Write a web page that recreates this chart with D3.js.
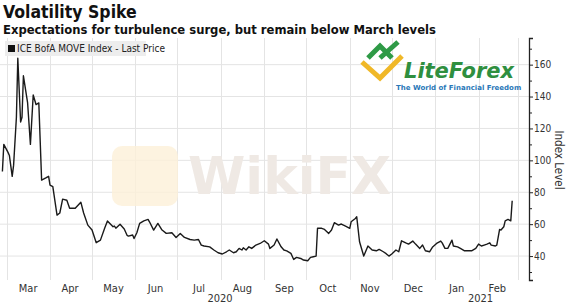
<!DOCTYPE html>
<html>
<head>
<meta charset="utf-8">
<script src="https://cdn.jsdelivr.net/npm/d3@7"></script>
<style>
  body { margin: 0; background: #fff; }
  svg { display: block; }
</style>
</head>
<body>
<div id="chart"></div>
<script>
// ICE BofA MOVE Index
const dates = [
  "2020-02-27","2020-02-28","2020-03-02","2020-03-03","2020-03-05","2020-03-06","2020-03-08","2020-03-09",
  "2020-03-11","2020-03-12","2020-03-13","2020-03-16","2020-03-18","2020-03-20","2020-03-22","2020-03-24",
  "2020-03-26","2020-03-29","2020-03-31","2020-04-01","2020-04-03","2020-04-06","2020-04-08","2020-04-10",
  "2020-04-13","2020-04-15","2020-04-19","2020-04-23","2020-04-25","2020-04-28","2020-05-01","2020-05-04",
  "2020-05-07","2020-05-10","2020-05-12","2020-05-16","2020-05-17","2020-05-18","2020-05-21","2020-05-24",
  "2020-05-26","2020-05-27","2020-05-30","2020-05-31","2020-06-02","2020-06-04","2020-06-07","2020-06-10",
  "2020-06-11","2020-06-14","2020-06-17","2020-06-20","2020-06-23","2020-06-27","2020-06-30","2020-07-03",
  "2020-07-06","2020-07-10","2020-07-13","2020-07-16","2020-07-18","2020-07-20","2020-07-24","2020-07-27",
  "2020-07-30","2020-08-02","2020-08-05","2020-08-07","2020-08-10","2020-08-12","2020-08-14","2020-08-16",
  "2020-08-17","2020-08-19","2020-08-21","2020-08-23","2020-08-26","2020-08-29","2020-09-01","2020-09-04",
  "2020-09-05","2020-09-08","2020-09-10","2020-09-13","2020-09-15","2020-09-17","2020-09-20","2020-09-22",
  "2020-09-24","2020-09-27","2020-09-29","2020-10-02","2020-10-04","2020-10-06","2020-10-08","2020-10-09",
  "2020-10-12","2020-10-14","2020-10-17","2020-10-19","2020-10-21","2020-10-24","2020-10-26","2020-10-29",
  "2020-11-01","2020-11-02","2020-11-05","2020-11-06","2020-11-08","2020-11-11","2020-11-14","2020-11-17",
  "2020-11-20","2020-11-22","2020-11-25","2020-11-27","2020-11-29","2020-12-01","2020-12-04","2020-12-06",
  "2020-12-08","2020-12-11","2020-12-13","2020-12-16","2020-12-18","2020-12-21","2020-12-23","2020-12-25",
  "2020-12-28","2020-12-30","2021-01-02","2021-01-05","2021-01-06","2021-01-08","2021-01-10","2021-01-13",
  "2021-01-14","2021-01-17","2021-01-19","2021-01-22","2021-01-25","2021-01-27","2021-01-30","2021-02-01",
  "2021-02-03","2021-02-05","2021-02-07","2021-02-09","2021-02-10","2021-02-13","2021-02-14","2021-02-16",
  "2021-02-17","2021-02-19","2021-02-20","2021-02-22","2021-02-24","2021-02-25"
];
const values = [
  93, 110, 105, 103, 90, 97, 127, 164,
  124, 127, 153, 136, 110, 141, 135, 136,
  87.6, 89, 90, 84.5, 83.5, 65.7, 67, 75.7,
  75, 70, 70, 73.8, 67, 59.4, 56.3, 48.4,
  50, 57.5, 62, 58.4, 58.8, 57.5, 60, 57,
  53, 52.5, 53.2, 51, 54.6, 60.5, 62.1, 63,
  61.5, 56.3, 60.5, 56.3, 54.2, 54.6, 51.7, 54.2,
  51.7, 50.4, 50, 50.4, 46.9, 46.3, 45.8, 43.8,
  42.1, 41.3, 42.7, 43.8, 42.1, 42.7, 44.8, 43.8,
  45.2, 43.8, 45.8, 44.8, 46.9, 47.9, 49.6, 47.5,
  44.8, 46.9, 50.7, 45.8, 43.8, 43.3, 41.7, 37.9,
  39.2, 38.5, 37.5, 37.1, 39.2, 39.6, 40, 57.4,
  57.4, 56.7, 54.2, 56.3, 60.9, 59.4, 60.1, 58.8,
  57.4, 61.5, 63.6, 64.6, 49, 40, 46.3, 43.8,
  43.3, 44.2, 42.7, 41.5, 40, 41.3, 43.8, 42.7,
  49.6, 48.3, 47.5, 49.4, 47.5, 44.8, 46.9, 43.3,
  42.7, 45.5, 47.9, 49.4, 48.3, 44.8, 44.8, 50,
  46.3, 45.8, 44.8, 43.3, 43.3, 43.3, 44.8, 47.5,
  46.3, 46.9, 47.5, 48.3, 46.9, 46.3, 46.9, 56.7,
  56.3, 58.4, 62.1, 63, 62.1, 74.7
];

const monthLabels = ["Mar","Apr","May","Jun","Jul","Aug","Sep","Oct","Nov","Dec","Jan","Feb"];
const monthMids = ["2020-03-16","2020-04-15","2020-05-16","2020-06-15","2020-07-16","2020-08-16",
  "2020-09-15","2020-10-16","2020-11-15","2020-12-16","2021-01-16","2021-02-14"];
const monthStarts = ["2020-03-01","2020-04-01","2020-05-01","2020-06-01","2020-07-01","2020-08-01",
  "2020-09-01","2020-10-01","2020-11-01","2020-12-01","2021-01-01","2021-02-01","2021-03-01"];
const yearLabels = ["2020", "2021"];
const yearMids = ["2020-07-31", "2021-02-02"];
const yTicks = [40, 60, 80, 100, 120, 140, 160];
const yMinorTicks = [30, 50, 70, 90, 110, 130, 150, 170];

const parse = d3.timeParse("%Y-%m-%d");
const data = dates.map((d, i) => ({ date: parse(d), value: values[i] }));

const width = 567, height = 306;
const plot = { left: 1, right: 529, top: 38, bottom: 280 };
const condFont = "'DejaVu Sans Condensed', 'DejaVu Sans', sans-serif";

const x = d3.scaleTime()
  .domain([parse("2020-02-26"), parse("2021-03-09")])
  .range([plot.left, plot.right]);
const y = d3.scaleLinear()
  .domain([25, 176.7])
  .range([plot.bottom, plot.top]);

const svg = d3.select("#chart").append("svg")
  .attr("width", width)
  .attr("height", height);

// Title + subtitle
svg.append("text")
  .attr("x", 3).attr("y", 18)
  .style("font-family", condFont)
  .style("font-weight", "bold")
  .style("font-size", "17.5px")
  .style("fill", "#111")
  .text("Volatility Spike");
svg.append("text")
  .attr("x", 3).attr("y", 34)
  .style("font-family", condFont)
  .style("font-weight", "bold")
  .style("font-size", "12.9px")
  .style("fill", "#111")
  .text("Expectations for turbulence surge, but remain below March levels");

// Gridlines
svg.append("g")
  .selectAll("line")
  .data(yTicks)
  .enter().append("line")
  .attr("x1", 0).attr("x2", plot.right)
  .attr("y1", d => y(d)).attr("y2", d => y(d))
  .style("stroke", "#e4e4e4").style("stroke-width", 1);
svg.append("g")
  .selectAll("line")
  .data(monthStarts)
  .enter().append("line")
  .attr("x1", d => Math.round(x(parse(d))) + 0.5).attr("x2", d => Math.round(x(parse(d))) + 0.5)
  .attr("y1", plot.top).attr("y2", plot.bottom)
  .style("stroke", "#e4e4e4").style("stroke-width", 1);

// Watermarks (faint)
const wm = svg.append("g");
wm.append("rect")
  .attr("x", 112).attr("y", 146).attr("width", 66).attr("height", 60).attr("rx", 10)
  .style("fill", "#fcf0d8").style("opacity", 0.8);
wm.append("text")
  .attr("x", 188).attr("y", 194)
  .style("font-family", "'DejaVu Sans', sans-serif")
  .style("font-weight", "bold")
  .style("font-size", "52px")
  .style("fill", "#efe9e4")
  .text("WikiFX");
wm.append("text")
  .attr("x", 404).attr("y", 78)
  .style("font-family", "'DejaVu Sans', sans-serif")
  .style("font-weight", "bold")
  .style("font-style", "italic")
  .style("font-size", "21px")
  .style("fill", "#2f8f3f")
  .text("LiteForex");
wm.append("text")
  .attr("x", 396).attr("y", 90)
  .style("font-family", "'DejaVu Sans', sans-serif")
  .style("font-weight", "bold")
  .style("font-size", "7px")
  .style("fill", "#2a78b8")
  .text("The World of Financial Freedom");
wm.append("path")
  .attr("d", "M362,62 L380,78 L402,56")
  .style("fill", "none").style("stroke", "#f0b828").style("stroke-width", 5);
wm.append("path")
  .attr("d", "M368,58 L380,46 L392,58 M380,58 L398,42")
  .style("fill", "none").style("stroke", "#2e9a46").style("stroke-width", 5);

// Legend
svg.append("rect")
  .attr("x", 5).attr("y", 41).attr("width", 141).attr("height", 15)
  .style("fill", "#ededed");
svg.append("rect")
  .attr("x", 8).attr("y", 45).attr("width", 7).attr("height", 7)
  .style("fill", "#111");
svg.append("text")
  .attr("x", 17).attr("y", 52)
  .style("font-family", condFont)
  .style("font-size", "10px")
  .style("fill", "#222")
  .text("ICE BofA MOVE Index - Last Price");

// Line
const line = d3.line()
  .x(d => x(d.date))
  .y(d => y(d.value));
svg.append("path")
  .datum(data)
  .attr("d", line)
  .style("fill", "none")
  .style("stroke", "#1a1a1a")
  .style("stroke-width", 1.4)
  .style("stroke-linejoin", "round");

// Right axis
const yAxis = svg.append("g")
  .attr("transform", "translate(" + plot.right + ",0)")
  .call(d3.axisRight(y).tickValues(yTicks).tickSize(4).tickPadding(1));
yAxis.select(".domain").style("stroke", "#222").style("stroke-width", 1.3);
yAxis.selectAll(".tick line").style("stroke", "#222");
yAxis.selectAll("text").style("font-size", "10px").style("fill", "#333")
  .style("font-family", condFont);
const yMinor = svg.append("g")
  .attr("transform", "translate(" + plot.right + ",0)")
  .call(d3.axisRight(y).tickValues(yMinorTicks).tickSize(3).tickFormat(""));
yMinor.select(".domain").remove();
yMinor.selectAll(".tick line").style("stroke", "#222");

svg.append("text")
  .attr("transform", "translate(555,160) rotate(90)")
  .style("text-anchor", "middle")
  .style("font-family", condFont)
  .style("font-size", "11.5px")
  .style("fill", "#333")
  .text("Index Level");

// Month labels
const xAxis = svg.append("g")
  .attr("transform", "translate(0," + plot.bottom + ")")
  .call(d3.axisBottom(x)
    .tickValues(monthMids.map(parse))
    .tickFormat((d, i) => monthLabels[i])
    .tickSize(0).tickPadding(4));
xAxis.select(".domain").remove();
xAxis.selectAll("text").style("font-size", "11px").style("fill", "#333")
  .style("font-family", condFont);

// Year labels
const yearAxis = svg.append("g")
  .attr("transform", "translate(0," + (plot.bottom + 14) + ")")
  .call(d3.axisBottom(x)
    .tickValues(yearMids.map(parse))
    .tickFormat((d, i) => yearLabels[i])
    .tickSize(0).tickPadding(0));
yearAxis.select(".domain").remove();
yearAxis.selectAll("text").style("font-size", "11px").style("fill", "#333")
  .style("font-family", condFont);
</script>
</body>
</html>
